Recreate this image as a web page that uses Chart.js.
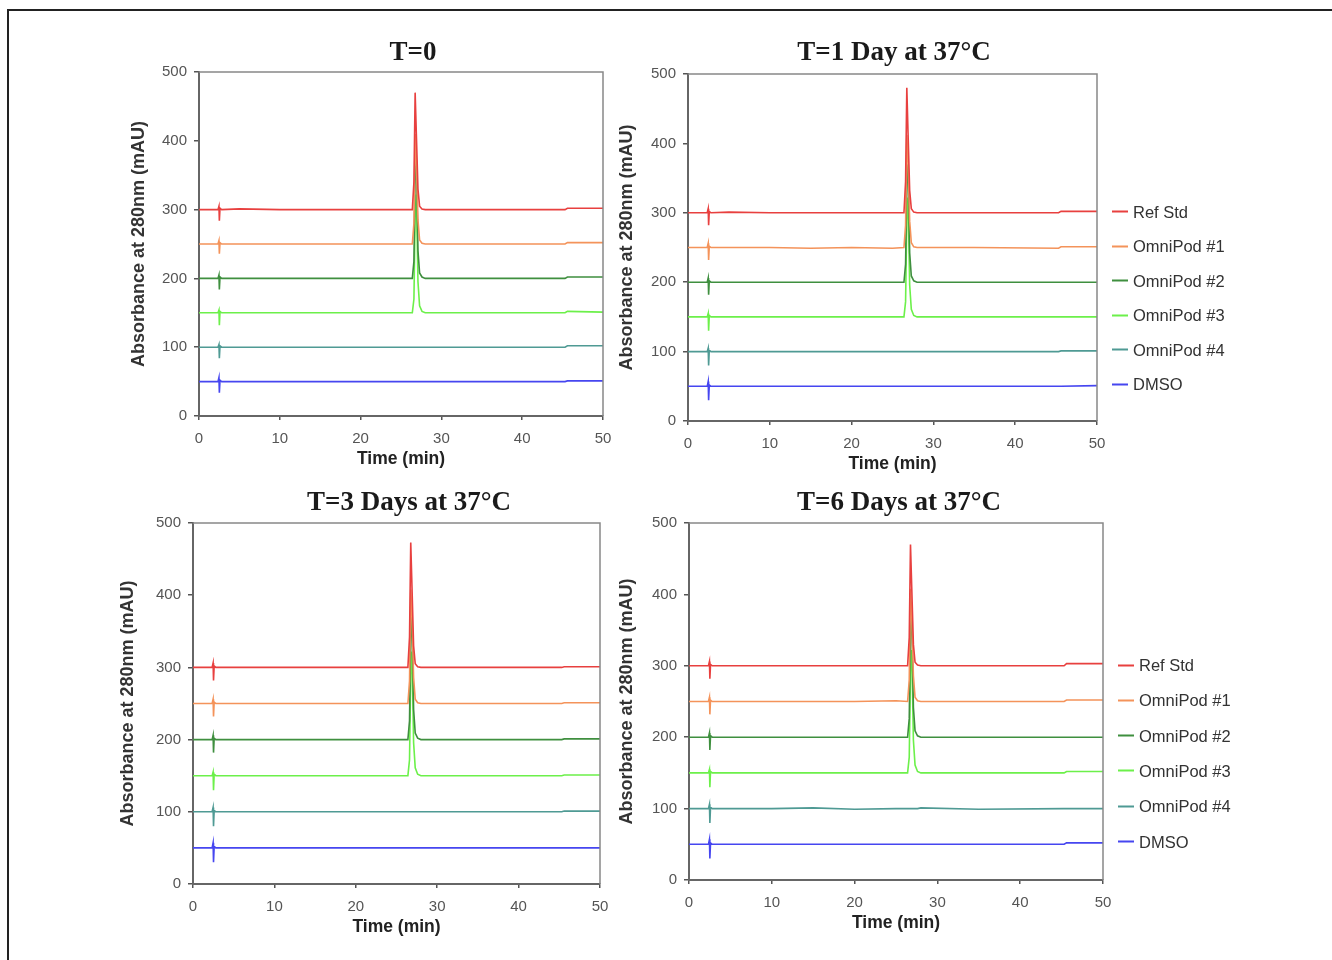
<!DOCTYPE html>
<html>
<head>
<meta charset="utf-8">
<script src="https://cdn.jsdelivr.net/npm/chart.js@4.4.1/dist/chart.umd.min.js"></script>
<style>
  html, body { margin: 0; padding: 0; background: #fff; }
  body { width: 1332px; height: 960px; position: relative; overflow: hidden; }
  .frame { position: absolute; left: 7px; top: 9px; right: -10px; bottom: -10px;
           border-top: 2px solid #222; border-left: 2px solid #222; }
  canvas { position: absolute; }
  .ptitle { position: absolute; font: bold 27px "Liberation Serif", "Times New Roman", serif;
            color: #1a1a1a; transform: translate(-50%, -50%); white-space: nowrap; }
  .leg { position: absolute; font: 16.5px "Liberation Sans", Arial, sans-serif; color: #333;
         white-space: nowrap; transform: translateY(-50%); display: flex; align-items: center; }
  .leg span.ln { display: inline-block; width: 16px; height: 2px; margin-right: 5px; }
</style>
</head>
<body>
<div class="frame"></div>
<canvas id="c0"></canvas>
<canvas id="c1"></canvas>
<canvas id="c2"></canvas>
<canvas id="c3"></canvas>

<script>
// retention time (min)
const time = [0, 2.35, 2.47, 2.52, 2.6, 2.8, 5, 10, 15, 20, 25, 26.4, 26.6, 26.75, 26.9, 27.1, 27.3, 27.6, 28, 35, 45.3, 45.6, 50];

const seriesLabels = ["Ref Std", "OmniPod #1", "OmniPod #2", "OmniPod #3", "OmniPod #4", "DMSO"];
const seriesColors = ["#e8403f", "#f4935a", "#3f8f3f", "#6cf04a", "#4f9a94", "#4646f0"];

const xTicks = [0, 10, 20, 30, 40, 50];
const yTicks = [0, 100, 200, 300, 400, 500];

// T=0
const t0Ref  = [300,300,305,284,302,300,301,300,300,300,300,300,340,470,410,330,305,301,300,300,300,302,302];
const t0Pod1 = [250,250,255,236,252,250,250,250,250,250,250,250,280,410,372,285,256,251,250,250,250,252,252];
const t0Pod2 = [200,200,205,184,202,200,200,200,200,200,200,200,225,350,372,240,208,202,200,200,200,202,202];
const t0Pod3 = [150,150,154,132,152,150,150,150,150,150,150,150,170,290,322,195,160,152,150,150,150,152,151];
const t0Pod4 = [100,100,104,84,102,100,100,100,100,100,100,100,100,100,100,100,100,100,100,100,100,102,102];
const t0Dmso = [50,50,56,34,52,50,50,50,50,50,50,50,50,50,50,50,50,50,50,50,50,51,51];

// T=1 Day
const t1Ref  = [300,300,306,282,302,300,301,300,300,300,300,300,345,480,415,332,306,301,300,300,300,302,302];
const t1Pod1 = [250,250,256,232,252,250,250,250,249,250,249,250,282,412,375,288,257,251,250,250,249,251,251];
const t1Pod2 = [200,200,206,182,202,200,200,200,200,200,200,200,226,348,370,242,209,202,200,200,200,200,200];
const t1Pod3 = [150,150,155,130,152,150,150,150,150,150,150,150,172,292,322,196,161,152,150,150,150,150,150];
const t1Pod4 = [100,100,105,80,102,100,100,100,100,100,100,100,100,100,100,100,100,100,100,100,100,101,101];
const t1Dmso = [50,50,57,30,52,50,50,50,50,50,50,50,50,50,50,50,50,50,50,50,50,50,51];

// T=3 Days
const t3Ref  = [300,300,306,282,302,300,300,300,300,300,300,300,342,473,412,330,305,301,300,300,300,301,301];
const t3Pod1 = [250,250,256,232,252,250,250,250,250,250,250,250,281,408,372,286,256,251,250,250,250,251,251];
const t3Pod2 = [200,200,206,182,202,200,200,200,200,200,200,200,226,348,370,242,209,202,200,200,200,201,201];
const t3Pod3 = [150,150,155,130,152,150,150,150,150,150,150,150,172,292,322,196,161,152,150,150,150,151,151];
const t3Pod4 = [100,100,106,80,102,100,100,100,100,100,100,100,100,100,100,100,100,100,100,100,100,101,101];
const t3Dmso = [50,50,57,30,52,50,50,50,50,50,50,50,50,50,50,50,50,50,50,50,50,50,50];

// T=6 Days
const t6Ref  = [300,300,306,282,302,300,300,300,300,300,300,300,340,470,410,330,305,301,300,300,300,303,303];
const t6Pod1 = [250,250,256,232,252,250,250,250,250,250,251,250,280,408,372,286,256,251,250,250,250,252,252];
const t6Pod2 = [200,200,206,182,202,200,200,200,200,200,200,200,226,350,372,242,209,202,200,200,200,200,200];
const t6Pod3 = [150,150,155,130,152,150,150,150,150,150,150,150,172,292,322,196,161,152,150,150,150,152,152];
const t6Pod4 = [100,100,106,80,102,100,100,100,101,99,100,100,100,100,100,100,100,100,101,99,100,100,100];
const t6Dmso = [50,50,57,30,52,50,50,50,50,50,50,50,50,50,50,50,50,50,50,50,50,52,52];

const Y_TITLE = "Absorbance at 280nm (mAU)";
const X_TITLE = "Time (min)";
const SANS = '"Liberation Sans", Arial, sans-serif';

// plot area boxes in page pixels
const panels = [
  { id: "c0", title: "T=0",               tx: 413, ty: 51,  plot: [199, 72, 603, 416],  yOff: 60, series: [t0Ref, t0Pod1, t0Pod2, t0Pod3, t0Pod4, t0Dmso], legend: null },
  { id: "c1", title: "T=1 Day at 37°C",   tx: 894, ty: 51,  plot: [688, 74, 1097, 421], yOff: 61, series: [t1Ref, t1Pod1, t1Pod2, t1Pod3, t1Pod4, t1Dmso], legend: [1112, 211.5, 34.5] },
  { id: "c2", title: "T=3 Days at 37°C",  tx: 409, ty: 501, plot: [193, 523, 600, 884], yOff: 65, series: [t3Ref, t3Pod1, t3Pod2, t3Pod3, t3Pod4, t3Dmso], legend: null },
  { id: "c3", title: "T=6 Days at 37°C",  tx: 899, ty: 501, plot: [689, 523, 1103, 880], yOff: 62, series: [t6Ref, t6Pod1, t6Pod2, t6Pod3, t6Pod4, t6Dmso], legend: [1118, 665, 35.3] }
];

const Y_W = 80, X_H = 55, PAD_T = 14, PAD_R = 24;
const Y_TITLE_SIZE = 18;

const plotFrame = {
  id: "plotFrame",
  afterDraw(chart) {
    const { ctx, chartArea: a } = chart;
    ctx.save();
    ctx.strokeStyle = "#888";
    ctx.lineWidth = 1.5;
    ctx.beginPath();
    ctx.moveTo(a.left, a.top);
    ctx.lineTo(a.right, a.top);
    ctx.lineTo(a.right, a.bottom);
    ctx.stroke();
    ctx.restore();
  }
};

function addTitle(p) {
  const d = document.createElement("div");
  d.className = "ptitle";
  d.textContent = p.title;
  d.style.left = p.tx + "px";
  d.style.top = p.ty + "px";
  document.body.appendChild(d);
}

function addLegend(p) {
  const [lx, ly, step] = p.legend;
  seriesLabels.forEach((lab, i) => {
    const d = document.createElement("div");
    d.className = "leg";
    d.style.left = lx + "px";
    d.style.top = (ly + i * step) + "px";
    const ln = document.createElement("span");
    ln.className = "ln";
    ln.style.background = seriesColors[i];
    d.appendChild(ln);
    d.appendChild(document.createTextNode(lab));
    document.body.appendChild(d);
  });
}

function makePanel(p) {
  const [l, t, r, b] = p.plot;
  const cv = document.getElementById(p.id);
  const w = Y_W + (r - l) + PAD_R;
  const h = PAD_T + (b - t) + X_H;
  cv.style.left = (l - Y_W) + "px";
  cv.style.top = (t - PAD_T) + "px";
  cv.style.width = w + "px";
  cv.style.height = h + "px";
  cv.width = w;
  cv.height = h;

  const datasets = p.series.map((vals, i) => ({
    label: seriesLabels[i],
    data: time.map((x, k) => ({ x, y: vals[k] })),
    borderColor: seriesColors[i],
    borderWidth: 1.6,
    pointRadius: 0,
    tension: 0
  }));

  new Chart(cv, {
    type: "line",
    data: { datasets },
    options: {
      responsive: false,
      animation: false,
      layout: { padding: { left: 0, top: PAD_T, right: PAD_R, bottom: 0 } },
      plugins: { legend: { display: false }, tooltip: { enabled: false } },
      scales: {
        x: {
          type: "linear", min: 0, max: 50,
          afterBuildTicks: (s) => { s.ticks = xTicks.map(v => ({ value: v })); },
          afterFit: (s) => { s.height = X_H; s.paddingLeft = 0; s.paddingRight = 0; },
          grid: { drawOnChartArea: false, drawTicks: true, tickLength: 4, color: "#555", lineWidth: 1.5 },
          border: { display: true, color: "#666", width: 2 },
          ticks: { padding: 10, color: "#555", font: { family: SANS, size: 15 }, maxRotation: 0 },
          title: { display: true, text: X_TITLE, color: "#222", padding: { top: 0, bottom: 1.5 },
                   font: { family: SANS, size: 17.5, weight: "bold" } }
        },
        y: {
          type: "linear", min: 0, max: 500,
          afterBuildTicks: (s) => { s.ticks = yTicks.map(v => ({ value: v })); },
          afterFit: (s) => { s.width = Y_W; s.paddingTop = 0; s.paddingBottom = 0; },
          grid: { drawOnChartArea: false, drawTicks: true, tickLength: 5, color: "#555", lineWidth: 1.5 },
          border: { display: true, color: "#666", width: 2 },
          ticks: { padding: 7, color: "#555", font: { family: SANS, size: 15 } },
          title: { display: true, text: Y_TITLE, color: "#333",
                   padding: { top: Y_W - p.yOff - Y_TITLE_SIZE * 0.6, bottom: 0 },
                   font: { family: SANS, size: Y_TITLE_SIZE, weight: "bold" } }
        }
      }
    },
    plugins: [plotFrame]
  });

  addTitle(p);
  if (p.legend) addLegend(p);
}

panels.forEach(makePanel);
</script>
</body>
</html>
